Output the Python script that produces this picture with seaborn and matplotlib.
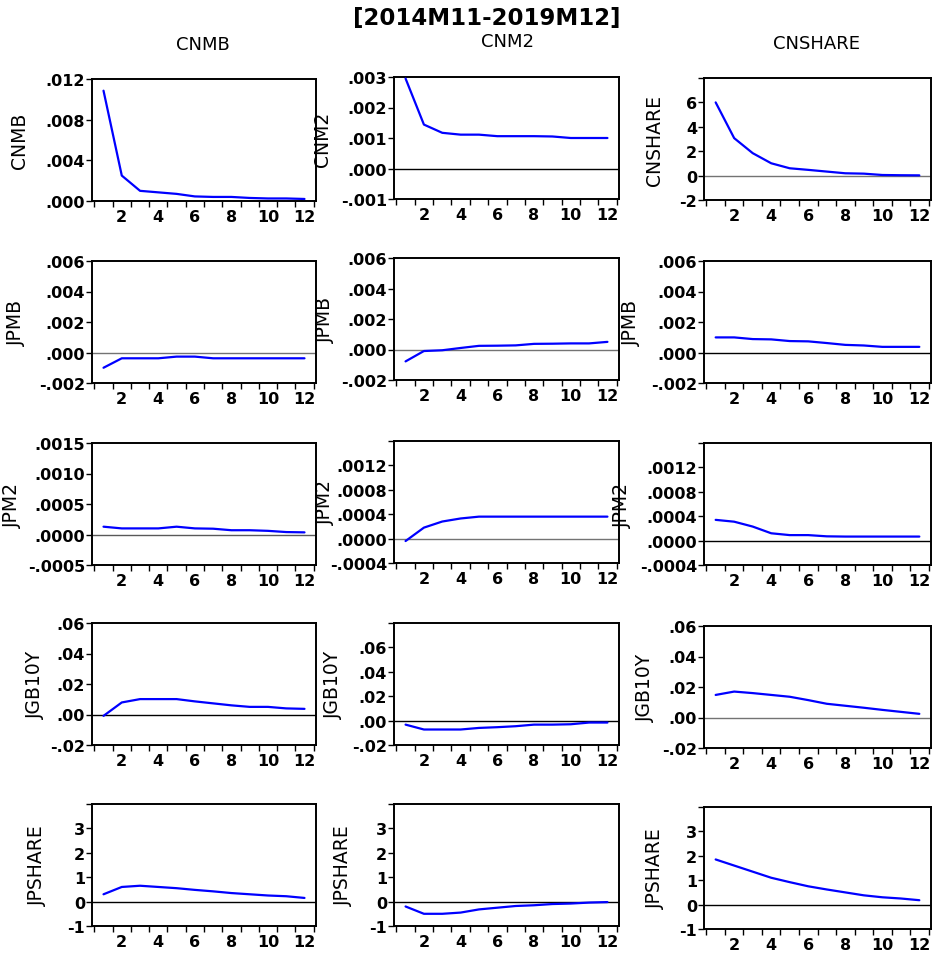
import matplotlib
matplotlib.use("Agg")
import matplotlib.pyplot as plt
import seaborn as sns
import pandas as pd

sns.set_theme(style="white")
plt.rcParams["font.family"] = ["DejaVu Sans"]
plt.rcParams["text.color"] = "black"
plt.rcParams["axes.labelcolor"] = "black"
plt.rcParams["xtick.color"] = "black"
plt.rcParams["ytick.color"] = "black"

# Impulse-response horizon
periods = list(range(1, 13))

# Column shocks
shocks = ["CNMB", "CNM2", "CNSHARE"]

# Row 1: own responses of the Chinese variables
cnmb_to_cnmb = [0.01085, 0.0025, 0.0010, 0.00085, 0.0007, 0.00045, 0.0004, 0.0004,
                0.0003, 0.00025, 0.00025, 0.0002]
cnm2_to_cnm2 = [0.00295, 0.00144, 0.00117, 0.00111, 0.00111, 0.00106, 0.00106, 0.00106,
                0.00105, 0.0010, 0.0010, 0.0010]
cnshare_to_cnshare = [6.0, 3.07, 1.84, 1.01, 0.60, 0.47, 0.33, 0.19, 0.16, 0.05, 0.03, 0.02]

# Row 2: JPMB responses
cnmb_to_jpmb = [-0.0010, -0.00038, -0.00038, -0.00038, -0.00027, -0.00027, -0.00038,
                -0.00038, -0.00038, -0.00038, -0.00038, -0.00038]
cnm2_to_jpmb = [-0.00078, -0.0001, -0.00005, 0.0001, 0.00024, 0.00025, 0.00027, 0.00037,
                0.00038, 0.0004, 0.0004, 0.0005]
cnshare_to_jpmb = [0.00099, 0.00099, 0.00088, 0.00086, 0.00075, 0.00073, 0.00062, 0.0005,
                   0.00046, 0.00037, 0.00037, 0.00037]

# Row 3: JPM2 responses
cnmb_to_jpm2 = [0.000128, 0.0001, 0.0001, 0.0001, 0.000128, 0.0001, 0.000095, 0.00007,
                0.00007, 0.00006, 0.00004, 0.000035]
cnm2_to_jpm2 = [-0.00004, 0.00018, 0.00028, 0.00033, 0.00036, 0.00036, 0.00036, 0.00036,
                0.00036, 0.00036, 0.00036, 0.00036]
cnshare_to_jpm2 = [0.00034, 0.00031, 0.00023, 0.00012, 0.00009, 0.00009, 0.00007,
                   0.000066, 0.000066, 0.000066, 0.000066, 0.000066]

# Row 4: JGB10Y responses
cnmb_to_jgb10y = [-0.0009, 0.0079, 0.0101, 0.0101, 0.0101, 0.0086, 0.0073, 0.006, 0.005,
                  0.005, 0.004, 0.0037]
cnm2_to_jgb10y = [-0.0033, -0.0073, -0.0073, -0.0073, -0.006, -0.0054, -0.0046, -0.0033,
                  -0.0033, -0.003, -0.0016, -0.0016]
cnshare_to_jgb10y = [0.0148, 0.017, 0.016, 0.0148, 0.0136, 0.0114, 0.009, 0.0077, 0.0064,
                     0.005, 0.0037, 0.0024]

# Row 5: JPSHARE responses
cnmb_to_jpshare = [0.3, 0.6, 0.65, 0.6, 0.55, 0.48, 0.42, 0.35, 0.3, 0.25, 0.22, 0.15]
cnm2_to_jpshare = [-0.2, -0.5, -0.5, -0.45, -0.32, -0.25, -0.18, -0.15, -0.1, -0.08,
                   -0.04, -0.02]
cnshare_to_jpshare = [1.85, 1.6, 1.35, 1.1, 0.92, 0.75, 0.62, 0.5, 0.38, 0.3, 0.25, 0.18]

# Panel grid (rows x columns)
panel_values = [
    [cnmb_to_cnmb, cnm2_to_cnm2, cnshare_to_cnshare],
    [cnmb_to_jpmb, cnm2_to_jpmb, cnshare_to_jpmb],
    [cnmb_to_jpm2, cnm2_to_jpm2, cnshare_to_jpm2],
    [cnmb_to_jgb10y, cnm2_to_jgb10y, cnshare_to_jgb10y],
    [cnmb_to_jpshare, cnm2_to_jpshare, cnshare_to_jpshare],
]
panel_ylabels = [
    ["CNMB", "CNM2", "CNSHARE"],
    ["JPMB", "JPMB", "JPMB"],
    ["JPM2", "JPM2", "JPM2"],
    ["JGB10Y", "JGB10Y", "JGB10Y"],
    ["JPSHARE", "JPSHARE", "JPSHARE"],
]

ticks_cnmb = [0.0, 0.004, 0.008, 0.012]
labels_cnmb = [".000", ".004", ".008", ".012"]
ticks_cnm2 = [-0.001, 0.0, 0.001, 0.002, 0.003]
labels_cnm2 = ["-.001", ".000", ".001", ".002", ".003"]
ticks_cnshare = [-2, 0, 2, 4, 6, 8]
labels_cnshare = ["-2", "0", "2", "4", "6", ""]
ticks_jpmb = [-0.002, 0.0, 0.002, 0.004, 0.006]
labels_jpmb = ["-.002", ".000", ".002", ".004", ".006"]
ticks_jpm2_a = [-0.0005, 0.0, 0.0005, 0.0010, 0.0015]
labels_jpm2_a = ["-.0005", ".0000", ".0005", ".0010", ".0015"]
ticks_jpm2_b = [-0.0004, 0.0, 0.0004, 0.0008, 0.0012, 0.0016]
labels_jpm2_b = ["-.0004", ".0000", ".0004", ".0008", ".0012", ""]
ticks_jgb_a = [-0.02, 0.0, 0.02, 0.04, 0.06]
labels_jgb_a = ["-.02", ".00", ".02", ".04", ".06"]
ticks_jgb_b = [-0.02, 0.0, 0.02, 0.04, 0.06, 0.08]
labels_jgb_b = ["-.02", ".00", ".02", ".04", ".06", ""]
ticks_jpshare = [-1, 0, 1, 2, 3, 4]
labels_jpshare = ["-1", "0", "1", "2", "3", ""]

panel_ticks = [
    [(ticks_cnmb, labels_cnmb), (ticks_cnm2, labels_cnm2), (ticks_cnshare, labels_cnshare)],
    [(ticks_jpmb, labels_jpmb)] * 3,
    [(ticks_jpm2_a, labels_jpm2_a), (ticks_jpm2_b, labels_jpm2_b), (ticks_jpm2_b, labels_jpm2_b)],
    [(ticks_jgb_a, labels_jgb_a), (ticks_jgb_b, labels_jgb_b), (ticks_jgb_a, labels_jgb_a)],
    [(ticks_jpshare, labels_jpshare)] * 3,
]

x_ticklabels = ["2", "4", "6", "8", "10", "12"]
main_title = "[2014M11-2019M12]"

# ---- layout (pixels on a 932 x 954 canvas) ----
W, H = 932, 954
fig = plt.figure(figsize=(W / 100, H / 100), dpi=100)

col_left = [92, 394, 704]
col_width = [224, 225, 227]
row_top = [
    [80, 78, 79],
    [262, 259, 262],
    [444, 442, 444],
    [624, 624, 627],
    [805, 805, 808],
]
panel_h = 122
ylabel_x = [
    [29, 332, 664],
    [26, 335, 641],
    [22, 335, 632],
    [45, 343, 655],
    [47, 353, 665],
]
zero_colors = [
    ["black", "black", "0.45"],
    ["0.45", "0.45", "black"],
    ["0.35", "0.45", "black"],
    ["black", "black", "0.45"],
    ["black", "black", "black"],
]

tick_font = dict(family="DejaVu Sans", weight="bold", size=11.5)

for r in range(5):
    for c in range(3):
        left = col_left[c]
        top = row_top[r][c]
        ax = fig.add_axes([left / W, 1 - (top + panel_h) / H, col_width[c] / W, panel_h / H])
        df = pd.DataFrame({"period": periods, "response": panel_values[r][c]})
        ax.axhline(0, color=zero_colors[r][c], lw=1.0, zorder=1)
        sns.lineplot(data=df, x="period", y="response", ax=ax, color="#0000ff",
                     lw=1.6, zorder=3)
        yt, yl = panel_ticks[r][c]
        ax.set_ylim(yt[0], yt[-1])
        ax.set_yticks(yt)
        ax.set_yticklabels(yl, fontdict=tick_font)
        ax.set_xlim(0.37, 12.63)
        ax.set_xticks([2, 4, 6, 8, 10, 12])
        ax.set_xticklabels(x_ticklabels, fontdict=tick_font)
        ax.set_xticks([k + 0.5 for k in range(13)], minor=True)
        ax.tick_params(axis="x", which="major", length=0, pad=6)
        ax.tick_params(axis="x", which="minor", length=4, width=1.0, color="black",
                       direction="out", bottom=True)
        ax.tick_params(axis="y", which="major", length=4, width=1.0, color="black",
                       direction="out", left=True, pad=1)
        for s in ax.spines.values():
            s.set_color("black")
            s.set_linewidth(1.4)
        ax.set_xlabel("")
        ax.set_ylabel(panel_ylabels[r][c], fontsize=13.5, color="black")
        ax.yaxis.set_label_coords((ylabel_x[r][c] - left) / col_width[c], 0.5)

# column headings
col_title_pos = [(203, 45), (508, 42), (817, 44)]
for name, (x, y) in zip(shocks, col_title_pos):
    fig.text(x / W, 1 - y / H, name, ha="center", va="center", fontsize=13,
             color="black")

fig.text(487 / W, 1 - 19 / H, main_title, ha="center", va="center",
         fontsize=16.5, fontweight="bold", color="black")

fig.savefig("out.png", dpi=100)
